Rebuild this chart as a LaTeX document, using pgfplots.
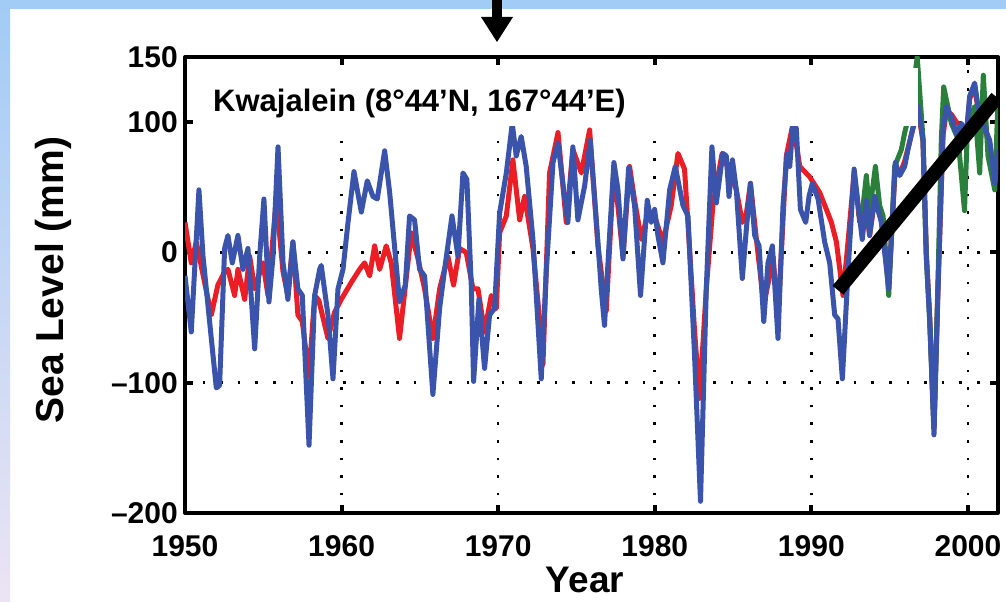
\documentclass[border=0pt]{standalone}
\usepackage{fontspec}
\setmainfont{Liberation Sans}
\usepackage{pgfplots}
\pgfplotsset{compat=1.18}
\definecolor{sealred}{RGB}{234,30,36}
\definecolor{sealblue}{RGB}{58,84,172}
\definecolor{sealgreen}{RGB}{42,128,58}
\definecolor{bgblue}{RGB}{162,203,245}
\definecolor{bglav}{RGB}{236,228,244}
\begin{document}
\begin{tikzpicture}[x=1bp,y=1bp]
\useasboundingbox (0,0) rectangle (1006,602);
\fill[white] (0,0) rectangle (1006,602);
\shade[top color=bgblue, bottom color=bglav] (0,0) rectangle (10,602);
\fill[bgblue] (0,593) rectangle (1006,602);
\begin{axis}[
  at={(185bp,89bp)}, anchor=south west,
  scale only axis, width=813bp, height=456bp,
  xmin=1950, xmax=2001.92, ymin=-200, ymax=150,
  xtick={1950,1960,1970,1980,1990,2000},
  xticklabels={1950,1960,1970,1980,1990,2000},
  ytick={-200,-100,0,100,150},
  yticklabels={\textendash200,\textendash100,0,100,150},
  tick align=inside,
  major tick length=8bp,
  axis line style={line width=4bp, black},
  every tick/.style={line width=4bp, black},
  grid=major,
  major grid style={black, line width=2.6bp, dash pattern=on 2.6bp off 15bp},
  tick label style={font=\fontsize{30bp}{36bp}\selectfont\bfseries, inner sep=0pt},
  xticklabel style={anchor=north, yshift=-22bp},
  yticklabel style={anchor=east, xshift=-7bp},
  xlabel={Year},
  ylabel={Sea Level (mm)},
  xlabel style={font=\fontsize{37bp}{44bp}\selectfont\bfseries, at={(axis description cs:0.492,-0.147)}, anchor=center},
  ylabel style={font=\fontsize{39bp}{46bp}\selectfont\bfseries, at={(axis description cs:-0.1624,0.511)}, anchor=center},
  line join=round,
]
% red series
\addplot[sealred, line width=5bp] coordinates {
(1950.00,23) (1950.40,-8) (1950.72,8) (1951.68,-48) (1952.10,-25) (1952.53,-15)
(1952.74,-13) (1953.17,-33) (1953.38,-13) (1953.81,-36) (1954.13,-3) (1954.45,-28)
(1954.98,-8) (1955.30,-33) (1955.83,41) (1956.26,-15) (1956.57,-33) (1956.89,8)
(1957.21,-48) (1957.49,-53) (1957.92,-95) (1958.28,-33) (1958.55,-37) (1959.13,-66)
(1959.55,-46) (1959.98,-36) (1960.62,-23) (1961.15,-13) (1961.47,-8) (1961.79,-18)
(1962.11,5) (1962.43,-13) (1962.85,5) (1963.17,-8) (1963.70,-66) (1964.45,15)
(1964.88,-5) (1965.30,-28) (1965.83,-66) (1966.26,-28) (1966.79,-3) (1967.15,-25)
(1967.54,3) (1967.96,0) (1968.39,-28) (1968.71,-28) (1969.13,-61) (1969.56,-33)
(1969.88,-43) (1970.09,15) (1970.52,28) (1970.94,71) (1971.37,25) (1971.69,43)
(1972.22,3) (1972.64,-51) (1972.86,-86) (1973.28,61) (1973.82,92) (1974.35,23)
(1974.77,79) (1975.31,61) (1975.84,94) (1976.37,5) (1976.69,-25) (1976.90,-45)
(1977.39,66) (1977.97,-3) (1978.39,66) (1978.71,40) (1979.14,10) (1979.52,28)
(1979.99,28) (1980.52,8) (1981.05,36) (1981.48,76) (1981.90,64) (1982.22,3)
(1982.54,-60) (1982.86,-112) (1983.29,-28) (1983.71,36) (1984.30,76) (1984.79,61)
(1985.21,48) (1985.59,23) (1985.85,30) (1986.11,53) (1986.49,10) (1986.96,-40)
(1987.34,-18) (1987.55,-3) (1987.87,-50) (1988.40,74) (1988.83,99) (1989.26,66)
(1989.89,58) (1990.53,46) (1990.96,33) (1991.28,23) (1991.60,8) (1992.02,-33)
(1992.34,8) (1992.73,61) (1993.09,23) (1993.51,35) (1993.72,13) (1994.04,40)
(1994.47,25) (1994.94,-25) (1995.36,65) (1995.64,60) (1995.96,70) (1996.17,80)
(1996.49,95) (1996.81,110) (1997.13,85) (1997.34,0) (1997.56,-50) (1997.83,-135)
(1998.09,-25) (1998.41,90) (1998.62,108) (1998.94,106) (1999.26,100) (1999.58,97)
(1999.90,90) (2000.11,118) (2000.43,127) (2000.64,110) (2000.96,97) (2001.39,84)
(2001.71,55) (2001.92,77)
};
% green series
\addplot[sealgreen, line width=5bp] coordinates {
(1993.00,30) (1993.19,23) (1993.51,59) (1993.72,31) (1994.09,66) (1994.36,36)
(1994.58,28) (1994.94,-33) (1995.32,66) (1995.75,79) (1995.96,92) (1996.17,102)
(1996.39,115) (1996.76,150) (1997.13,87) (1997.34,-3) (1997.56,-53) (1997.83,-135)
(1998.09,-20) (1998.30,87) (1998.45,127) (1998.94,99) (1999.37,87) (1999.78,32)
(1999.98,99) (2000.43,112) (2000.75,61) (2000.98,136) (2001.28,74) (2001.71,48)
(2001.92,117)
};
% blue series
\addplot[sealblue, line width=5bp] coordinates {
(1950.00,-18) (1950.40,-61) (1950.89,48) (1951.15,-3) (1951.57,-53) (1952.00,-104)
(1952.21,-102) (1952.53,3) (1952.74,13) (1953.02,-8) (1953.38,13) (1953.70,-13)
(1954.02,3) (1954.45,-74) (1954.77,-3) (1955.04,41) (1955.36,-38) (1955.62,-3)
(1955.94,81) (1956.26,-8) (1956.57,-36) (1956.89,8) (1957.21,-28) (1957.49,-33)
(1957.92,-148) (1958.28,-33) (1958.60,-13) (1958.70,-10) (1959.13,-48) (1959.45,-97)
(1959.77,-28) (1960.09,-13) (1960.41,23) (1960.79,62) (1961.26,31) (1961.64,55)
(1962.00,43) (1962.28,41) (1962.75,78) (1963.07,46) (1963.70,-38) (1964.07,-25)
(1964.34,28) (1964.66,25) (1964.98,-13) (1965.30,-18) (1965.83,-109) (1966.26,-43)
(1966.58,-13) (1967.05,28) (1967.43,-3) (1967.75,61) (1968.00,56) (1968.28,-25)
(1968.43,-99) (1968.77,-36) (1969.13,-89) (1969.45,-48) (1969.77,-43) (1970.09,30)
(1970.52,61) (1970.90,99) (1971.15,74) (1971.47,89) (1971.79,66) (1972.22,10)
(1972.75,-97) (1973.07,-15) (1973.50,69) (1973.82,84) (1974.13,53) (1974.45,23)
(1974.77,81) (1975.09,25) (1975.52,51) (1975.88,86) (1976.37,8) (1976.58,-28)
(1976.79,-56) (1977.05,0) (1977.39,69) (1977.65,48) (1977.97,-5) (1978.33,65)
(1978.71,36) (1979.09,-33) (1979.52,40) (1979.77,23) (1979.99,33) (1980.20,13)
(1980.52,-8) (1980.95,48) (1981.31,66) (1981.80,36) (1982.12,28) (1982.54,-79)
(1982.92,-191) (1983.29,-28) (1983.65,81) (1983.93,38) (1984.35,76) (1984.57,74)
(1984.74,43) (1984.96,71) (1985.21,48) (1985.59,-20) (1985.85,18) (1986.11,53)
(1986.38,13) (1986.66,5) (1986.96,-53) (1987.23,-8) (1987.51,5) (1987.87,-66)
(1988.19,36) (1988.45,76) (1988.62,66) (1988.83,100) (1989.04,95) (1989.30,33)
(1989.64,23) (1989.85,43) (1990.06,53) (1990.43,41) (1990.85,8) (1991.17,-8)
(1991.49,-48) (1991.70,-51) (1991.98,-97) (1992.34,-15) (1992.73,64) (1993.05,30)
(1993.25,10) (1993.51,40) (1993.72,13) (1994.04,43) (1994.47,23) (1994.94,-28)
(1995.36,69) (1995.64,59) (1995.96,66) (1996.17,79) (1996.49,96) (1996.81,112)
(1997.13,87) (1997.34,-3) (1997.56,-53) (1997.83,-140) (1998.09,-28) (1998.41,94)
(1998.62,112) (1998.94,104) (1999.26,91) (1999.58,99) (1999.90,91) (2000.11,120)
(2000.43,130) (2000.64,112) (2000.96,99) (2001.39,86) (2001.71,53) (2001.92,79)
};
% trend line
\addplot[black, line width=14bp, line cap=butt] coordinates {(1991.70,-29) (2001.85,119)};
\end{axis}
% title box
\fill[white] (194,476) rectangle (918,534);
\node[anchor=base west, inner sep=0pt, font=\fontsize{31bp}{37bp}\selectfont\bfseries] at (213,490) {Kwajalein (8°44’N, 167°44’E)};
% arrow
\fill[black] (492,602) rectangle (502,584);
\fill[black] (481,585) -- (513,585) -- (497,560) -- cycle;
\end{tikzpicture}
\end{document}
